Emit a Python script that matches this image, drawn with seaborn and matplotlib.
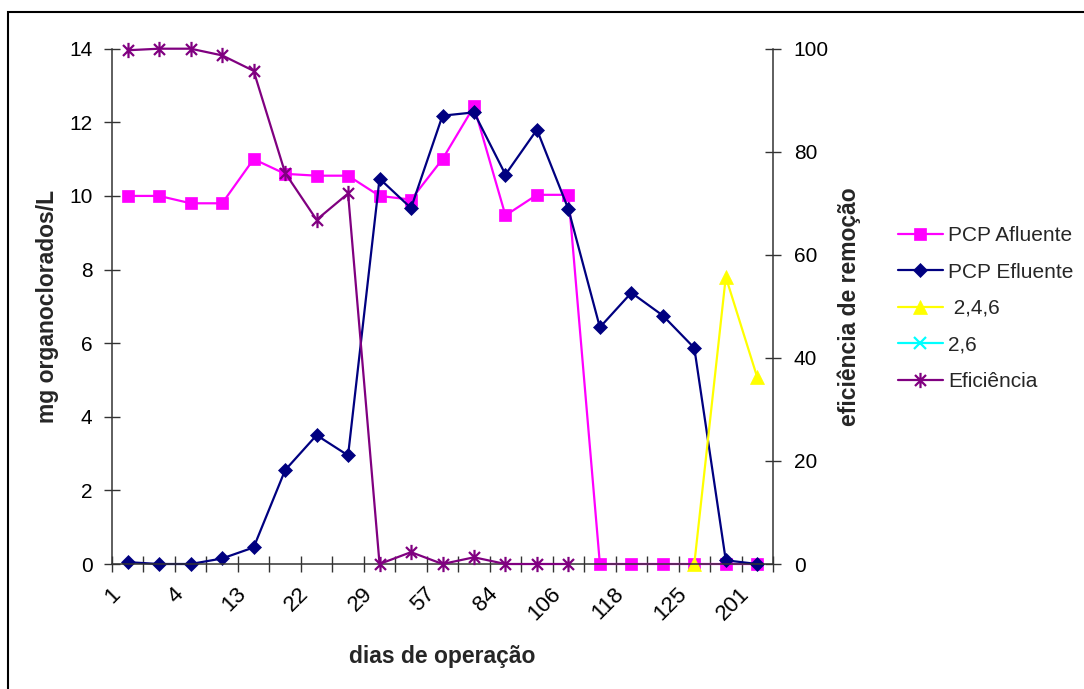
import numpy as np
import pandas as pd
import matplotlib
matplotlib.use("Agg")
import matplotlib.pyplot as plt
from matplotlib.path import Path
from matplotlib.lines import Line2D
from matplotlib.patches import Rectangle
from matplotlib.transforms import ScaledTranslation
import seaborn as sns

# ---------------- data ----------------
day_labels = ["1", "4", "13", "22", "29", "57", "84", "106", "118", "125", "201"]
n_cat = 21
cats = list(range(n_cat))

pcp_afluente = [10.0, 10.0, 9.8, 9.8, 11.0, 10.6, 10.55, 10.55, 10.0, 9.9, 11.0,
                12.43, 9.47, 10.03, 10.03, 0.0, 0.0, 0.0, 0.0, 0.0, 0.0]
pcp_efluente = [0.05, 0.0, 0.0, 0.15, 0.45, 2.55, 3.5, 2.95, 10.47, 9.67, 12.18,
                12.27, 10.58, 11.8, 9.64, 6.43, 7.37, 6.75, 5.87, 0.1, 0.0]
tcp_246_x = [18, 19, 20]
tcp_246 = [0.0, 7.8, 5.07]
eficiencia_x = list(range(15))
eficiencia = [99.7, 100.0, 100.0, 98.7, 95.7, 75.9, 66.8, 71.9, 0.0, 2.3, 0.0,
              1.3, 0.0, 0.0, 0.0]

# ---------------- style ----------------
sns.set_theme(style="white")
plt.rcParams["font.family"] = ["Liberation Sans", "DejaVu Sans"]

W, H = 1084, 689
fig = plt.figure(figsize=(W / 100, H / 100), dpi=100)
ax_l, ax_r, ax_t, ax_b = 112, 773, 48.7, 564
ax = fig.add_axes([ax_l / W, 1 - ax_b / H, (ax_r - ax_l) / W, (ax_b - ax_t) / H])
ax.set_facecolor("white")
ax2 = ax.twinx()

MAG, NAVY, YEL, CYAN, PURP = "#FF00FF", "#000080", "#FFFF00", "#00FFFF", "#800080"

ast_path = Path([(0, -1), (0, 1), (-0.72, -0.72), (0.72, 0.72), (-0.72, 0.72), (0.72, -0.72)],
                [Path.MOVETO, Path.LINETO, Path.MOVETO, Path.LINETO, Path.MOVETO, Path.LINETO])

common = dict(lw=1.6, errorbar=None, clip_on=False)
sns.lineplot(x=cats, y=pcp_afluente, ax=ax, color=MAG, marker="s",
             markersize=8.5, mec=MAG, mfc=MAG, mew=0.5, label="PCP Afluente", **common)
sns.lineplot(x=cats, y=pcp_efluente, ax=ax, color=NAVY, marker="D",
             markersize=7.5, mec=NAVY, mfc=NAVY, mew=0.5, label="PCP Efluente", **common)
sns.lineplot(x=tcp_246_x, y=tcp_246, ax=ax, color=YEL, marker="^",
             markersize=10, mec=YEL, mfc=YEL, mew=0.5, label=" 2,4,6", **common)
sns.lineplot(x=eficiencia_x, y=eficiencia, ax=ax2, color=PURP, marker=ast_path,
             markersize=11, mec=PURP, mfc=PURP, mew=1.6, label="Eficiência", **common)

for a in (ax, ax2):
    leg = a.get_legend()
    if leg is not None:
        leg.remove()

# axes limits and ticks
ax.set_xlim(-0.5, n_cat - 0.5)
ax.set_ylim(0, 14)
ax2.set_ylim(0, 100)
ax.set_yticks(np.arange(0, 15, 2))
ax.set_yticklabels([str(v) for v in range(0, 15, 2)])
ax2.set_yticks(np.arange(0, 101, 20))
ax2.set_yticklabels([str(v) for v in range(0, 101, 20)])

ax.set_xticks(cats[::2])
ax.set_xticklabels(day_labels, rotation=45, ha="right", va="top", rotation_mode="anchor")
ax.set_xticks(np.arange(-0.5, n_cat, 1), minor=True)

ax.tick_params(axis="x", which="major", bottom=True, length=0, pad=14, labelsize=16,
               colors="black")
ax.tick_params(axis="x", which="minor", bottom=True, direction="inout", length=12,
               width=1, color="#333333")
ax.tick_params(axis="y", which="major", left=True, direction="inout", length=12, width=1,
               color="#333333", labelsize=15, pad=8, labelcolor="black")
ax2.tick_params(axis="y", which="major", right=True, direction="inout", length=12, width=1,
                color="#333333", labelsize=15, pad=9, labelcolor="black")

shift = ScaledTranslation(-13 / 72, 0, fig.dpi_scale_trans)
for lab in ax.get_xticklabels():
    lab.set_transform(lab.get_transform() + shift)

for a in (ax, ax2):
    a.spines["top"].set_visible(False)
    for s in ("left", "right", "bottom"):
        a.spines[s].set_color("#333333")
        a.spines[s].set_linewidth(1.1)
ax.spines["right"].set_visible(False)
ax2.spines["left"].set_visible(False)
ax2.spines["bottom"].set_visible(False)
ax.grid(False)
ax2.grid(False)

# axis labels
ax.set_xlabel("dias de operação", fontsize=16.5, fontweight="bold")
ax.xaxis.set_label_coords(0.5, -(657 - ax_b) / (ax_b - ax_t))
ax.xaxis.label.set_verticalalignment("center")
ax.set_ylabel("mg organoclorados/L", fontsize=16.5, fontweight="bold")
ax.yaxis.set_label_coords((48 - ax_l) / (ax_r - ax_l), 0.5)
ax.yaxis.label.set_verticalalignment("center")
ax2.set_ylabel("eficiência de remoção", fontsize=16.5, fontweight="bold")
ax2.yaxis.set_label_coords((849 - ax_l) / (ax_r - ax_l), 0.5)
ax2.yaxis.label.set_verticalalignment("center")
ax2.yaxis.label.set_rotation(90)

# legend
h1, l1 = ax.get_legend_handles_labels()
h2, l2 = ax2.get_legend_handles_labels()
proxy26 = Line2D([], [], color=CYAN, lw=1.6, marker="x", markersize=9, mew=1.6)
handles = h1 + [proxy26] + h2
labels = l1 + ["2,6"] + l2
fig.legend(handles, labels, loc="upper left", bbox_to_anchor=(898 / W, 1 - 226 / H),
           frameon=False, fontsize=15, handlelength=2.15, handletextpad=0.25,
           labelspacing=0.84, borderpad=0, borderaxespad=0)

# chart-area border (extends beyond the image on right/bottom)
top = 1 - 12 / H
fig.add_artist(Rectangle((8 / W, -0.05), 1.1, top + 0.05,
                         transform=fig.transFigure, fill=False, ec="black", lw=1.5))

fig.savefig("out.png", dpi=100)
